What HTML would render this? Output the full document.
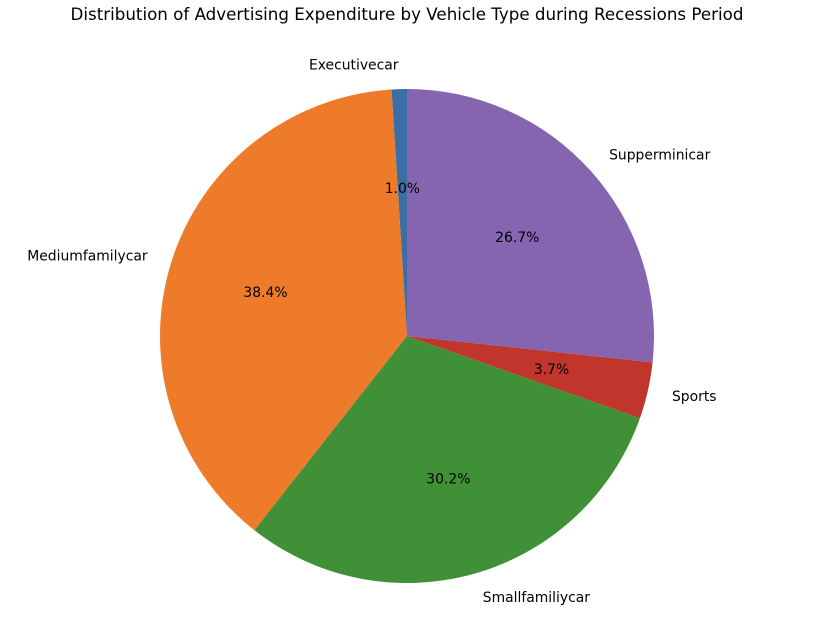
<!DOCTYPE html>
<html><head><meta charset="utf-8">
<style>
html,body{margin:0;padding:0;background:#fff;}
svg text{font-family:"DejaVu Sans","Liberation Sans",sans-serif;}
</style></head>
<body>
<svg id="chart" width="838" height="628" viewBox="0 0 838 628" xmlns="http://www.w3.org/2000/svg">
<text x="407" y="20" text-anchor="middle" font-size="16.7" fill="#000">Distribution of Advertising Expenditure by Vehicle Type during Recessions Period</text>
<g id="slices"></g>
<g id="labels"></g>
</svg>
<script>
const categories = ["Executivecar","Mediumfamilycar","Smallfamiliycar","Sports","Supperminicar"];
const values = [1.0, 38.4, 30.2, 3.7, 26.7];
const colors = ["#3a6ea5","#ee7b2a","#3f9036","#c0362c","#8564b0"];
const cx = 407, cy = 336, r = 247;
const NS = "http://www.w3.org/2000/svg";
const total = values.reduce((a,b)=>a+b,0);
const gS = document.getElementById('slices'), gL = document.getElementById('labels');
function pt(deg, rad){const t=deg*Math.PI/180;return [cx+rad*Math.cos(t), cy-rad*Math.sin(t)];}
let ang = 90;
values.forEach((v,i)=>{
  const sweep = v/total*360;
  const a0 = ang, a1 = ang+sweep;
  const p0 = pt(a0,r), p1 = pt(a1,r);
  const large = sweep>180?1:0;
  const path = document.createElementNS(NS,'path');
  path.setAttribute('d',`M${cx},${cy} L${p0[0]},${p0[1]} A${r},${r} 0 ${large} 0 ${p1[0]},${p1[1]} Z`);
  path.setAttribute('fill',colors[i]);
  
  
  gS.appendChild(path);
  const mid = (a0+a1)/2;
  const lp = pt(mid, r*1.1);
  const t = document.createElementNS(NS,'text');
  t.setAttribute('x',lp[0]); t.setAttribute('y',lp[1]+5);
  t.setAttribute('font-size','13.9');
  t.setAttribute('text-anchor', lp[0]>=cx ? 'start':'end');
  t.textContent = categories[i];
  
  
  gL.appendChild(t);
  const pp = pt(mid, r*0.6);
  const p = document.createElementNS(NS,'text');
  p.setAttribute('x',pp[0]); p.setAttribute('y',pp[1]+5);
  p.setAttribute('font-size','13.9');
  p.setAttribute('text-anchor','middle');
  p.textContent = v.toFixed(1)+'%';
  
  
  gL.appendChild(p);
  ang = a1;
});
</script>
</body></html>
